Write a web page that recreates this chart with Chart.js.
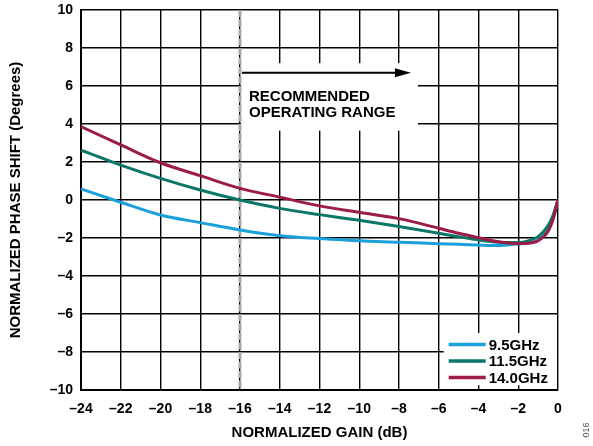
<!DOCTYPE html>
<html>
<head>
<meta charset="utf-8">
<script src="https://cdn.jsdelivr.net/npm/chart.js@4"></script>
<style>
  html, body { margin: 0; padding: 0; background: #fff; }
  #wrap { width: 593px; height: 446px; }
</style>
</head>
<body>
<div id="wrap"><canvas id="phaseChart" width="593" height="446"></canvas></div>
<script>
// Normalized phase shift vs normalized gain
const gain = [-24, -22, -20, -18, -16, -14, -12, -10, -8, -6, -5, -4, -3, -2, -1.5, -1, -0.5, -0.25, 0];
const phase95 = [0.58, -0.12, -0.79, -1.19, -1.58, -1.88, -2.03, -2.15, -2.22, -2.3, -2.33, -2.37, -2.4, -2.3, -2.25, -2.12, -1.6, -1.0, 0];
const phase115 = [2.63, 1.84, 1.14, 0.53, 0.0, -0.44, -0.77, -1.07, -1.39, -1.75, -1.93, -2.1, -2.22, -2.24, -2.15, -1.93, -1.35, -0.8, 0];
const phase140 = [3.86, 2.9, 1.96, 1.28, 0.61, 0.15, -0.31, -0.65, -0.98, -1.49, -1.75, -1.98, -2.2, -2.3, -2.28, -2.14, -1.65, -1.0, 0];
const seriesNames = ['9.5GHz', '11.5GHz', '14.0GHz'];
const xTicks = [-24, -22, -20, -18, -16, -14, -12, -10, -8, -6, -4, -2, 0];
const yTicks = [-10, -8, -6, -4, -2, 0, 2, 4, 6, 8, 10];
const rangeStart = -16;
const rangeLabel = ['RECOMMENDED', 'OPERATING RANGE'];

const FONT = '"Liberation Sans", Arial, sans-serif';
const colors = ['#1aa0da', '#0b7769', '#9c1b47'];

function pts(ys) {
    return gain.map((g, i) => ({ x: g, y: ys[i] }));
}
function dash(v) {
    return v < 0 ? '\u2013' + Math.abs(v) : String(v);
}

// boxes, dashed marker, arrow, text and legend
const extras = {
    id: 'extras',
    beforeDatasetsDraw(chart) {
        const c = chart.ctx, x = chart.scales.x, y = chart.scales.y;
        c.save();
        c.fillStyle = '#fff';
        // white box behind the range label
        c.fillRect(x.getPixelForValue(rangeStart) + 1, y.getPixelForValue(7.2),
            x.getPixelForValue(-7.1) - x.getPixelForValue(rangeStart), y.getPixelForValue(3.65) - y.getPixelForValue(7.2));
        // white box behind the legend
        c.fillRect(x.getPixelForValue(-5.75), y.getPixelForValue(-7.0),
            x.getPixelForValue(0) - 1 - x.getPixelForValue(-5.75), y.getPixelForValue(-9.75) - y.getPixelForValue(-7.0));
        // dashed grey marker
        const px = x.getPixelForValue(rangeStart);
        c.strokeStyle = '#aaaaaa';
        c.lineWidth = 3;
        c.setLineDash([7, 2.5]);
        c.beginPath();
        c.moveTo(px, y.top);
        c.lineTo(px, y.bottom);
        c.stroke();
        c.restore();
    },
    afterDatasetsDraw(chart) {
        const c = chart.ctx, x = chart.scales.x, y = chart.scales.y;
        c.save();
        // arrow
        const ay = y.getPixelForValue(6.7);
        const x0 = x.getPixelForValue(rangeStart) + 2;
        const x1 = x.getPixelForValue(-7.4);
        c.strokeStyle = '#000';
        c.lineWidth = 2;
        c.beginPath();
        c.moveTo(x0, ay);
        c.lineTo(x1 - 12, ay);
        c.stroke();
        c.fillStyle = '#000';
        c.beginPath();
        c.moveTo(x1, ay);
        c.lineTo(x1 - 16, ay - 4.5);
        c.lineTo(x1 - 16, ay + 4.5);
        c.closePath();
        c.fill();
        // label
        c.font = 'bold 15px ' + FONT;
        c.textAlign = 'left';
        c.textBaseline = 'alphabetic';
        const tx = x.getPixelForValue(rangeStart) + 9;
        c.fillText(rangeLabel[0], tx, y.getPixelForValue(5.2));
        c.fillText(rangeLabel[1], tx, y.getPixelForValue(4.35));
        // legend
        c.font = 'bold 15px ' + FONT;
        c.textBaseline = 'middle';
        const lx = x.getPixelForValue(-5.5);
        chart.data.datasets.forEach((ds, i) => {
            const ly = y.getPixelForValue(-7.6 - i * 0.87);
            c.strokeStyle = ds.borderColor;
            c.lineWidth = 3.5;
            c.beginPath();
            c.moveTo(lx, ly);
            c.lineTo(lx + 37, ly);
            c.stroke();
            c.fillStyle = '#000';
            c.fillText(ds.label, lx + 40, ly + 1);
        });
        c.restore();
    },
    afterDraw(chart) {
        const c = chart.ctx;
        c.save();
        c.fillStyle = '#555';
        c.font = '9px ' + FONT;
        c.translate(587, 430);
        c.rotate(-Math.PI / 2);
        c.textAlign = 'center';
        c.textBaseline = 'middle';
        c.fillText('016', 0, 0);
        c.restore();
    }
};

const phaseChart = new Chart(document.getElementById('phaseChart').getContext('2d'), {
    type: 'line',
    data: {
        datasets: [
            { label: seriesNames[0], data: pts(phase95), borderColor: colors[0], order: 2 },
            { label: seriesNames[1], data: pts(phase115), borderColor: colors[1], order: 1 },
            { label: seriesNames[2], data: pts(phase140), borderColor: colors[2], order: 0 }
        ].map(d => Object.assign(d, {
            borderWidth: 3, pointRadius: 0, fill: false, cubicInterpolationMode: 'monotone'
        }))
    },
    options: {
        responsive: false,
        animation: false,
        devicePixelRatio: 1,
        layout: { padding: { top: 10, right: 35, left: 0, bottom: 0 } },
        plugins: { legend: { display: false }, tooltip: { enabled: false } },
        scales: {
            x: {
                type: 'linear',
                min: xTicks[0], max: xTicks[xTicks.length - 1],
                afterBuildTicks: s => { s.ticks = xTicks.map(v => ({ value: v })); },
                afterFit: s => { s.height = 56; s.paddingLeft = 0; s.paddingRight = 0; },
                grid: { color: '#000', lineWidth: 1.4, drawTicks: false },
                border: { color: '#000', width: 2 },
                ticks: {
                    padding: 11, color: '#000', maxRotation: 0,
                    font: { family: FONT, size: 14, weight: 'bold' },
                    callback: v => dash(v)
                },
                title: {
                    display: true, text: 'NORMALIZED GAIN (dB)', color: '#000',
                    font: { family: FONT, size: 15, weight: 'bold' },
                    padding: { top: 0, bottom: 4 }
                }
            },
            y: {
                min: yTicks[0], max: yTicks[yTicks.length - 1],
                afterBuildTicks: s => { s.ticks = yTicks.map(v => ({ value: v })); },
                afterFit: s => { s.width = 81; s.paddingTop = 0; s.paddingBottom = 0; },
                grid: { color: '#000', lineWidth: 1.4, drawTicks: false },
                border: { color: '#000', width: 2 },
                ticks: {
                    padding: 8, color: '#000',
                    font: { family: FONT, size: 14, weight: 'bold' },
                    callback: v => dash(v)
                },
                title: {
                    display: true, text: 'NORMALIZED PHASE SHIFT (Degrees)', color: '#000',
                    font: { family: FONT, size: 15, weight: 'bold' },
                    padding: { top: 7, bottom: 0 }
                }
            }
        }
    },
    plugins: [extras]
});
</script>
</body>
</html>
